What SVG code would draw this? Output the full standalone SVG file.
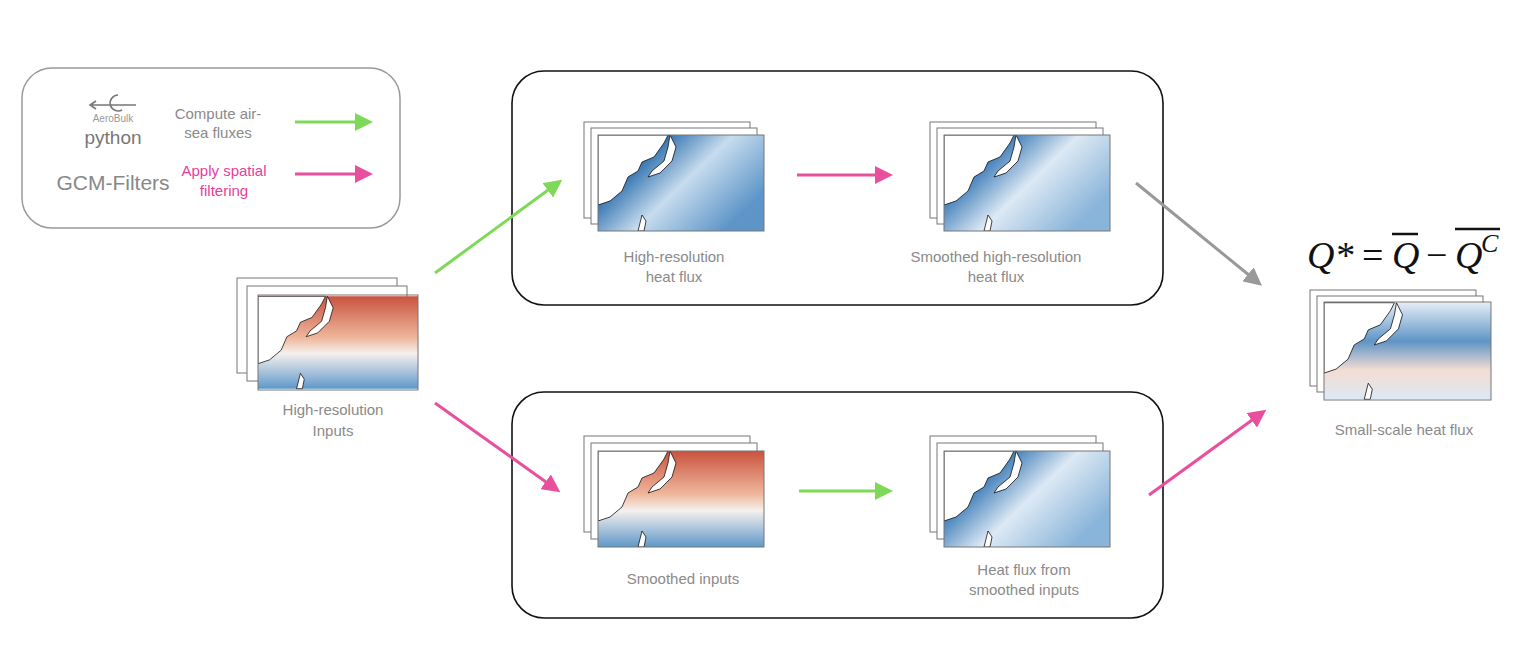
<svg xmlns="http://www.w3.org/2000/svg" width="1536" height="668" viewBox="0 0 1536 668">
<style>
.lbl{font-family:"Liberation Sans",Arial,sans-serif;font-size:15px;fill:#8a8a8a;text-anchor:middle}
.box{fill:none;stroke:#111;stroke-width:1.6}
.fr{stroke:#777;stroke-width:1}
.land{fill:#fff;stroke:#111;stroke-width:0.8}
.g{stroke:#7ed957;stroke-width:3;fill:none}
.p{stroke:#e8509e;stroke-width:3;fill:none}
.k{stroke:#999;stroke-width:3;fill:none}
</style>
<defs>
<marker id="mg" markerWidth="6" markerHeight="6" refX="3" refY="3" orient="auto" markerUnits="strokeWidth"><path d="M0,0 L6,3 L0,6Z" fill="#7ed957"/></marker>
<marker id="mp" markerWidth="6" markerHeight="6" refX="3" refY="3" orient="auto" markerUnits="strokeWidth"><path d="M0,0 L6,3 L0,6Z" fill="#e8509e"/></marker>
<marker id="mk" markerWidth="6" markerHeight="6" refX="3" refY="3" orient="auto" markerUnits="strokeWidth"><path d="M0,0 L6,3 L0,6Z" fill="#999"/></marker>
<linearGradient id="gb" x1="0" y1="0" x2="1" y2="0.6"><stop offset="0" stop-color="#6fa3d0"/><stop offset="0.3" stop-color="#2d6fae"/><stop offset="0.6" stop-color="#c7dcee"/><stop offset="1" stop-color="#5d95c8"/></linearGradient>
<linearGradient id="gs" x1="0" y1="0" x2="1" y2="0.6"><stop offset="0" stop-color="#8db8dc"/><stop offset="0.3" stop-color="#3a7ab8"/><stop offset="0.6" stop-color="#dde9f4"/><stop offset="1" stop-color="#8ab5da"/></linearGradient>
<linearGradient id="gr" x1="0" y1="0" x2="0" y2="1"><stop offset="0" stop-color="#c9533f"/><stop offset="0.45" stop-color="#efb79c"/><stop offset="0.62" stop-color="#f5f0ee"/><stop offset="1" stop-color="#5f98c9"/></linearGradient>
<linearGradient id="gm" x1="0" y1="0" x2="0" y2="1"><stop offset="0" stop-color="#e3edf6"/><stop offset="0.4" stop-color="#5f94c6"/><stop offset="0.7" stop-color="#f4ddd3"/><stop offset="1" stop-color="#dce9f4"/></linearGradient>
<g id="landshape">
<path class="land" d="M0,0 L70,0 L66,8 L56,22 L44,27 L40,36 L30,42 L24,56 L12,66 L0,70 Z"/>
<path class="land" d="M72,0 L78,12 L74,26 L62,38 L50,42 L54,36 L66,26 L70,12 Z"/>
<path class="land" d="M44,80 L48,86 L46,96 L40,96 Z"/>
</g>
<symbol id="mb" viewBox="0 0 166 96"><rect width="166" height="96" fill="url(#gb)"/><use href="#landshape"/></symbol>
<symbol id="ms" viewBox="0 0 166 96"><rect width="166" height="96" fill="url(#gs)"/><use href="#landshape"/></symbol>
<symbol id="mr" viewBox="0 0 166 96"><rect width="166" height="96" fill="url(#gr)"/><use href="#landshape"/></symbol>
<symbol id="mm" viewBox="0 0 166 96"><rect width="166" height="96" fill="url(#gm)"/><use href="#landshape"/></symbol>
</defs>
<rect width="1536" height="668" fill="#fff"/>

<g id="legend">
<rect x="22" y="68" width="378" height="160" rx="30" fill="none" stroke="#999" stroke-width="1.5"/>
<path d="M92,105 L136,105 M96,101 L90,105 L96,109" stroke="#777" stroke-width="1.6" fill="none"/>
<path d="M118,95 A8,8 0 1 0 122,110" stroke="#777" stroke-width="1.6" fill="none"/>
<text x="113" y="122" font-family="Liberation Sans,sans-serif" font-size="10" fill="#999" text-anchor="middle">AeroBulk</text>
<text x="113" y="144" font-family="Liberation Sans,sans-serif" font-size="19" fill="#777" text-anchor="middle">python</text>
<text x="113" y="190" font-family="Liberation Sans,sans-serif" font-size="21" fill="#888" text-anchor="middle">GCM-Filters</text>
<text x="218" y="119" class="lbl">Compute air-</text>
<text x="218" y="138" class="lbl">sea fluxes</text>
<text x="224" y="176" class="lbl" style="fill:#e8409a">Apply spatial</text>
<text x="224" y="196" class="lbl" style="fill:#e8409a">filtering</text>
</g>

<g id="box-top"><rect class="box" x="512" y="71" width="651" height="234" rx="32"/></g>
<g id="box-bottom"><rect class="box" x="512" y="392" width="651" height="226" rx="32"/></g>

<g id="inputs">
<rect class="fr" x="237" y="278" width="160" height="95" fill="#fff"/><rect class="fr" x="247" y="286" width="160" height="95" fill="#fff"/>
<use href="#mr" x="258" y="295" width="160" height="95"/><rect class="fr" x="258" y="295" width="160" height="95" fill="none"/>
<text x="333" y="415" class="lbl">High-resolution</text><text x="333" y="436" class="lbl">Inputs</text>
</g>
<g id="hr-flux">
<rect class="fr" x="584" y="122" width="166" height="96" fill="#fff"/><rect class="fr" x="591" y="128" width="166" height="96" fill="#fff"/>
<use href="#mb" x="598" y="135" width="166" height="96"/><rect class="fr" x="598" y="135" width="166" height="96" fill="none"/>
<text x="674" y="262" class="lbl">High-resolution</text><text x="674" y="282" class="lbl">heat flux</text>
</g>
<g id="smooth-hr-flux">
<rect class="fr" x="930" y="122" width="166" height="96" fill="#fff"/><rect class="fr" x="937" y="128" width="166" height="96" fill="#fff"/>
<use href="#ms" x="944" y="135" width="166" height="96"/><rect class="fr" x="944" y="135" width="166" height="96" fill="none"/>
<text x="996" y="262" class="lbl">Smoothed high-resolution</text><text x="996" y="282" class="lbl">heat flux</text>
</g>
<g id="smooth-inputs">
<rect class="fr" x="584" y="436" width="166" height="96" fill="#fff"/><rect class="fr" x="591" y="443" width="166" height="96" fill="#fff"/>
<use href="#mr" x="598" y="451" width="166" height="96"/><rect class="fr" x="598" y="451" width="166" height="96" fill="none"/>
<text x="683" y="584" class="lbl">Smoothed inputs</text>
</g>
<g id="flux-smooth">
<rect class="fr" x="930" y="436" width="166" height="96" fill="#fff"/><rect class="fr" x="937" y="443" width="166" height="96" fill="#fff"/>
<use href="#ms" x="944" y="451" width="166" height="96"/><rect class="fr" x="944" y="451" width="166" height="96" fill="none"/>
<text x="1024" y="575" class="lbl">Heat flux from</text><text x="1024" y="595" class="lbl">smoothed inputs</text>
</g>
<g id="small-scale">
<text x="1307" y="268" font-family="Liberation Serif,serif" font-size="38" font-style="italic" fill="#111">Q*</text>
<text x="1362" y="268" font-family="Liberation Serif,serif" font-size="38" fill="#111">=</text>
<text x="1392" y="268" font-family="Liberation Serif,serif" font-size="38" font-style="italic" fill="#111">Q</text>
<line x1="1392" y1="234" x2="1418" y2="234" stroke="#111" stroke-width="2.5"/>
<text x="1426" y="268" font-family="Liberation Serif,serif" font-size="38" fill="#111">−</text>
<text x="1455" y="268" font-family="Liberation Serif,serif" font-size="38" font-style="italic" fill="#111">Q</text>
<text x="1481" y="252" font-family="Liberation Serif,serif" font-size="26" font-style="italic" fill="#111">C</text>
<line x1="1455" y1="229" x2="1500" y2="229" stroke="#111" stroke-width="2.5"/>
<rect class="fr" x="1310" y="290" width="166" height="96" fill="#fff"/><rect class="fr" x="1317" y="296" width="166" height="96" fill="#fff"/>
<use href="#mm" x="1324" y="302" width="167" height="98"/><rect class="fr" x="1324" y="302" width="167" height="98" fill="none"/>
<text x="1404" y="435" class="lbl">Small-scale heat flux</text>
</g>

<g id="connectors">
<line class="g" x1="295" y1="122" x2="364" y2="122" marker-end="url(#mg)"/>
<line class="p" x1="295" y1="174" x2="364" y2="174" marker-end="url(#mp)"/>
<line class="g" x1="435" y1="273" x2="555" y2="185" marker-end="url(#mg)"/>
<line class="p" x1="797" y1="175" x2="884" y2="175" marker-end="url(#mp)"/>
<line class="k" x1="1136" y1="183" x2="1255" y2="280" marker-end="url(#mk)"/>
<line class="p" x1="435" y1="403" x2="553" y2="487" marker-end="url(#mp)"/>
<line class="g" x1="799" y1="491" x2="884" y2="491" marker-end="url(#mg)"/>
<line class="p" x1="1149" y1="495" x2="1259" y2="415" marker-end="url(#mp)"/>
</g>
</svg>
